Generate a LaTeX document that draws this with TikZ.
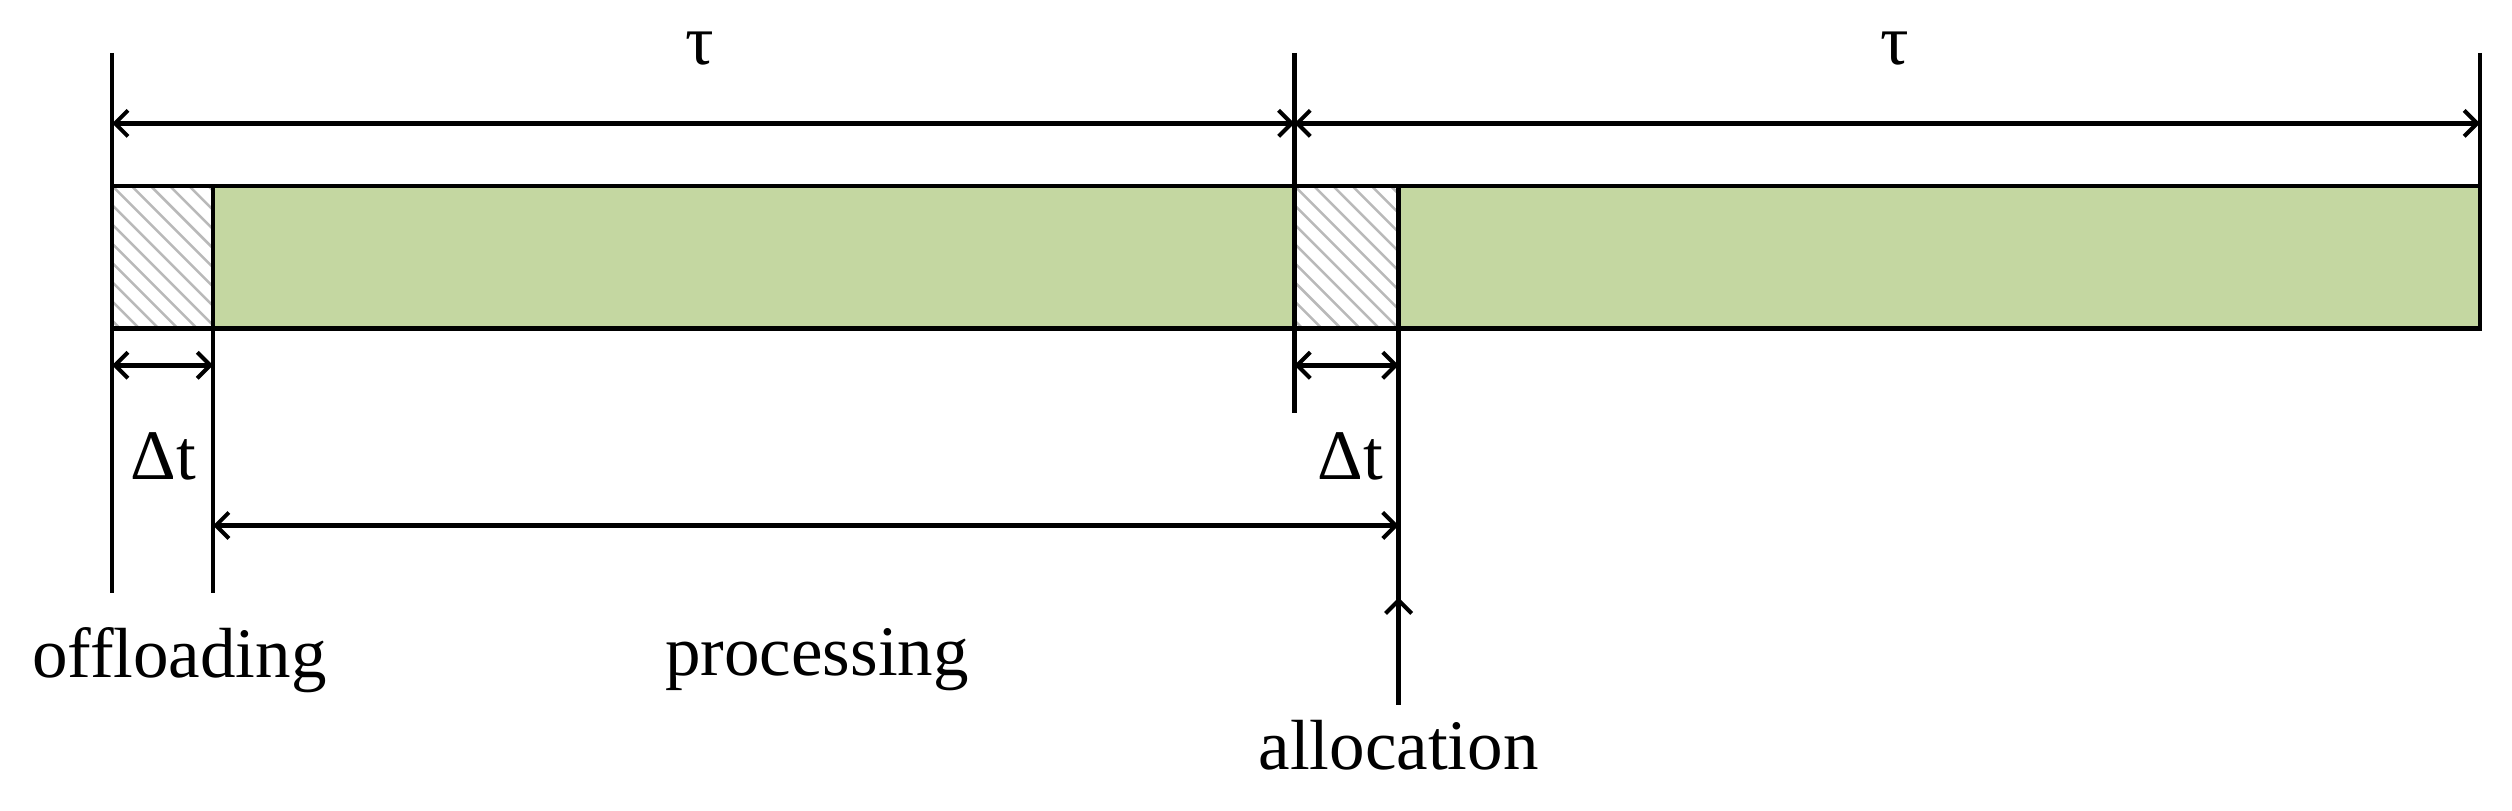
\documentclass[tikz,border=0pt]{standalone}
\usepackage{fontspec}
\setmainfont{Liberation Serif}
\usetikzlibrary{arrows.meta}
\begin{document}
\begin{tikzpicture}[x=1.602pt,y=-1.602pt,
  >={Straight Barb[length=13pt,width=26pt,line width=4pt]},
  ln/.style={line width=4.5pt},
  dim/.style={ln,<->},
  lbl/.style={font=\fontsize{71}{80}\selectfont,inner sep=0pt}]
\useasboundingbox (0,0) rectangle (1568,506);
\definecolor{bargreen}{RGB}{196,215,161}
% hatched boxes
\foreach \a/\b in {70/133,808/873}{
  \begin{scope}
    \clip (\a,116) rectangle (\b,205);
    \foreach \k in {-120,-108,...,80}{
      \draw[gray!55,line width=2.5pt] (\a+\k,116) -- (\a+\k+89,205);
    }
  \end{scope}
}
\fill[bargreen] (133,116) rectangle (808,205);
\fill[bargreen] (873,116) rectangle (1548,205);
\draw[ln] (70,116) rectangle (1548,205);
\coordinate (a0) at (70,77); \coordinate (a1) at (808,77); \coordinate (a2) at (1548,77);
\draw[ln] (70,33) -- (70,370);
\draw[ln] (133,116) -- (133,370);
\draw[ln] (808,33) -- (808,258);
\draw[ln] (873,116) -- (873,440);
\draw[ln] (1548,33) -- (1548,116);
\draw[dim] (a0) -- (a1);
\draw[dim] (a1) -- (a2);
\coordinate (d0) at (70,228); \coordinate (d1) at (133,228);
\coordinate (d2) at (808,228); \coordinate (d3) at (873,228);
\draw[dim] (d0) -- (d1);
\draw[dim] (d2) -- (d3);
\coordinate (p0) at (133,328); \coordinate (p1) at (873,328);
\draw[dim] (p0) -- (p1);
\coordinate (al0) at (873,440); \coordinate (al1) at (873,373);
\draw[ln,->] (al0) -- (al1);
\node[lbl] (tau1) at (437,30) {τ};
\node[lbl] (tau2) at (1183,30) {τ};
\node[lbl] (dt1) at (102,285) {Δt};
\node[lbl] (dt2) at (843,285) {Δt};
\node[lbl] (off) at (112,412) {offloading};
\node[lbl] (proc) at (510,412) {processing};
\node[lbl] (alloc) at (873,465) {allocation};
\end{tikzpicture}
\end{document}
